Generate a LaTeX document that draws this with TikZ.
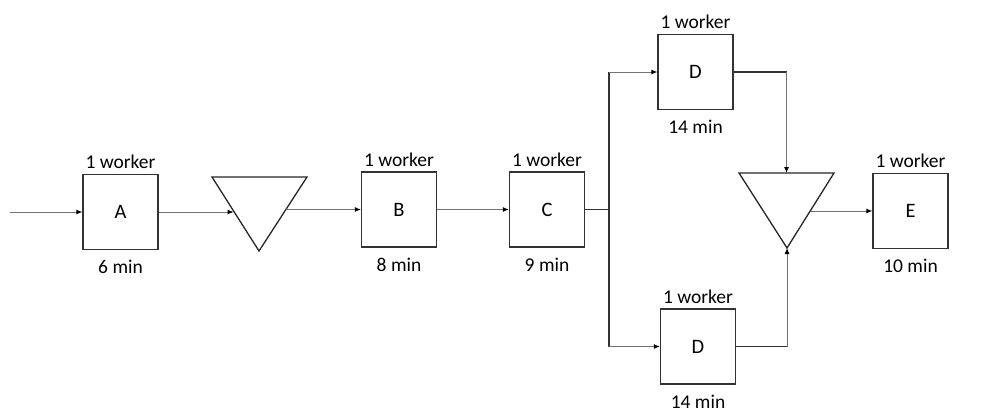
\documentclass[tikz,border=0pt]{standalone}
\usepackage{fontspec}
\setmainfont{Carlito}
\usetikzlibrary{arrows.meta,calc}
\begin{document}
\begin{tikzpicture}[x=1pt,y=-1pt,
  proc/.style={draw=black!80,line width=1.2pt,minimum width=75pt,minimum height=75pt,inner sep=0pt,font=\fontsize{20.5}{24}\selectfont},
  lbl/.style={inner sep=0pt,font=\fontsize{19.5}{23}\selectfont},
  conn/.style={draw=black!55,line width=1pt},
  trunk/.style={draw=black!80,line width=1.5pt},
  arr/.style={conn,-{Latex[length=6pt,width=5pt,color=black]}},
  tri/.style={draw=black!85,line width=1.3pt,line join=miter}]
\useasboundingbox (0,0) rectangle (1000,418);
% process boxes
\node[proc] (A) at (120.5,212) {A};
\node[proc] (B) at (399,209.5) {B};
\node[proc] (C) at (547,209.5) {C};
\node[proc] (D1) at (695.5,72) {D};
\node[proc] (D2) at (698,346.5) {D};
\node[proc] (E) at (910.5,211) {E};
% labels
\foreach \n/\t in {A/6 min,B/8 min,C/9 min,D1/14 min,D2/14 min,E/10 min}{
  \node[lbl] (w\n) at ([yshift=12pt]\n.north) {1 worker};
  \node[lbl] (m\n) at ([yshift=-17pt]\n.south) {\t};
}
% triangles (inventory)
\coordinate (t1l) at (212,177); \coordinate (t1r) at (307,177); \coordinate (t1a) at (259,251);
\coordinate (t2l) at (739,173); \coordinate (t2r) at (834,173); \coordinate (t2a) at (787,248);
\draw[tri] (t1l) -- (t1r) -- (t1a) -- cycle;
\draw[tri] (t2l) -- (t2r) -- (t2a) -- cycle;
\coordinate (t1in) at ($(t1l)!0.46!(t1a)$);
\coordinate (t1out) at ($(t1r)!0.44!(t1a)$);
\coordinate (t2top) at ($(t2l)!0.5!(t2r)$);
\coordinate (t2out) at ($(t2r)!0.5!(t2a)$);
% connectors
\coordinate (start) at (10,212);
\draw[arr] (start) -- (A.west);
\draw[arr] (A.east) -- (A.east -| t1in);
\draw[arr] (t1out |- B.west) -- (B.west);
\draw[arr] (B.east) -- (C.west);
\coordinate (J) at (609,209.5);
\coordinate (Jt) at (609,72);
\coordinate (Jb) at (609,346.5);
\draw[trunk] (C.east) -- (J);
\draw[trunk] (Jt) -- (Jb);
\draw[arr] (Jt) -- (D1.west);
\draw[arr] (Jb) -- (D2.west);
\coordinate (d1c) at (D1.east -| t2top);
\coordinate (d2c) at (D2.east -| t2a);
\draw[trunk,line width=1.3pt] (D1.east) -- (d1c);
\draw[arr] (d1c) -- (t2top);
\draw[trunk,line width=1.3pt] (D2.east) -- (d2c);
\draw[arr] (d2c) -- (t2a);
\draw[arr] (t2out |- E.west) -- (E.west);
\end{tikzpicture}
\end{document}
